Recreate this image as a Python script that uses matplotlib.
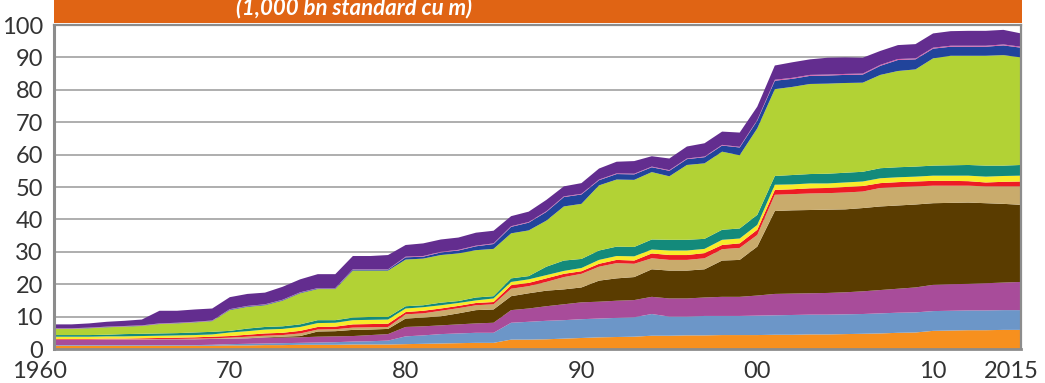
import matplotlib
matplotlib.use("Agg")
import matplotlib.pyplot as plt
from matplotlib.patches import Rectangle
from matplotlib.transforms import ScaledTranslation
import numpy as np

# Proved gas reserves by region, 1960-2015 (1,000 bn standard cu m)
years = list(range(1960, 2016))

orange = [1.0, 1.0, 1.0, 1.0, 1.0, 1.0, 1.0, 1.0, 1.0, 1.0,
          1.1, 1.1, 1.2, 1.2, 1.3, 1.3, 1.3, 1.4, 1.4, 1.4,
          1.5, 1.6, 1.7, 1.8, 1.9, 1.9, 2.9, 2.9, 3.0, 3.2,
          3.4, 3.6, 3.7, 3.8, 4.1, 4.1, 4.2, 4.2, 4.3, 4.3,
          4.3, 4.4, 4.4, 4.5, 4.5, 4.6, 4.7, 4.8, 5.0, 5.1,
          5.6, 5.7, 5.8, 5.8, 5.9, 5.9]
steel_blue = [0.2, 0.2, 0.2, 0.2, 0.2, 0.2, 0.2, 0.2, 0.2, 0.3,
              0.4, 0.5, 0.5, 0.6, 0.6, 0.7, 0.8, 0.9, 1.0, 1.2,
              2.4, 2.6, 2.9, 3.0, 3.1, 3.1, 5.2, 5.5, 5.7, 5.7,
              5.8, 5.8, 5.9, 6.0, 6.7, 5.9, 5.8, 6.0, 5.9, 5.9,
              6.0, 6.0, 6.1, 6.1, 6.1, 6.1, 6.1, 6.2, 6.2, 6.2,
              6.1, 6.1, 6.1, 6.1, 6.1, 6.1]
magenta = [1.6, 1.6, 1.6, 1.7, 1.7, 1.7, 1.8, 1.8, 1.8, 1.8,
           1.7, 1.7, 1.8, 1.7, 1.7, 1.8, 1.8, 1.7, 1.9, 2.0,
           2.9, 2.8, 2.7, 2.8, 2.9, 3.1, 3.9, 4.1, 4.5, 4.9,
           5.2, 5.2, 5.3, 5.3, 5.3, 5.6, 5.6, 5.7, 5.9, 5.9,
           6.2, 6.6, 6.6, 6.6, 6.7, 6.8, 7.0, 7.2, 7.4, 7.7,
           8.1, 8.2, 8.2, 8.4, 8.5, 8.7]
brown = [0.0, 0.0, 0.0, 0.0, 0.0, 0.0, 0.0, 0.0, 0.0, 0.0,
         0.0, 0.0, 0.1, 0.3, 0.4, 1.6, 1.6, 1.9, 1.7, 1.6,
         2.6, 2.7, 2.8, 3.4, 4.1, 4.1, 4.3, 4.7, 4.8, 4.6,
         4.6, 6.5, 6.9, 7.1, 8.5, 8.6, 8.6, 8.7, 11.2, 11.4,
         15.1, 25.6, 25.7, 25.7, 25.7, 25.6, 25.7, 25.8, 25.7, 25.6,
         25.2, 25.1, 25.1, 24.7, 24.3, 23.8]
tan = [0.1, 0.1, 0.1, 0.1, 0.1, 0.1, 0.1, 0.1, 0.2, 0.2,
       0.3, 0.5, 0.5, 0.5, 0.8, 0.6, 0.6, 0.7, 0.7, 0.6,
       1.3, 1.3, 1.7, 1.6, 1.5, 1.6, 2.3, 2.2, 2.7, 3.8,
       4.2, 4.3, 4.7, 4.1, 3.4, 3.3, 3.3, 3.4, 3.5, 3.7,
       3.6, 5.0, 5.0, 5.1, 5.1, 5.2, 5.1, 5.7, 5.7, 5.6,
       5.4, 5.3, 5.2, 5.2, 5.4, 5.7]
red = [0.2, 0.2, 0.2, 0.2, 0.2, 0.3, 0.3, 0.4, 0.4, 0.5,
       0.5, 0.6, 0.7, 0.7, 0.8, 0.8, 0.8, 1.0, 1.0, 1.0,
       0.7, 0.8, 0.7, 0.7, 0.7, 0.7, 1.1, 1.0, 1.1, 1.0,
       0.8, 0.9, 1.0, 1.0, 1.5, 1.5, 1.5, 1.6, 1.3, 1.4,
       1.6, 1.5, 1.5, 1.6, 1.6, 1.7, 1.7, 1.5, 1.5, 1.5,
       1.5, 1.5, 1.4, 1.2, 1.4, 1.5]
yellow = [0.7, 0.7, 0.7, 0.7, 0.7, 0.7, 0.7, 0.7, 0.7, 0.7,
          1.1, 1.1, 1.2, 1.2, 1.2, 1.2, 1.2, 1.3, 1.3, 1.3,
          1.1, 1.1, 1.0, 0.9, 0.8, 1.1, 1.0, 1.1, 1.0, 0.9,
          1.0, 1.2, 1.2, 1.3, 1.2, 1.4, 1.4, 1.3, 1.6, 1.5,
          1.5, 1.6, 1.5, 1.5, 1.4, 1.4, 1.4, 1.5, 1.5, 1.5,
          1.6, 1.6, 1.7, 1.8, 1.8, 1.8]
teal = [0.5, 0.5, 0.5, 0.5, 0.7, 0.7, 0.7, 0.7, 0.8, 0.8,
        0.5, 0.8, 0.8, 0.8, 0.8, 0.9, 0.8, 0.8, 0.9, 0.8,
        0.7, 0.6, 0.8, 0.6, 0.9, 0.7, 1.1, 1.0, 2.6, 3.2,
        2.8, 2.9, 2.9, 2.9, 3.1, 3.3, 3.3, 3.1, 3.1, 3.1,
        3.1, 2.7, 2.9, 2.9, 3.0, 3.0, 3.0, 3.1, 3.1, 3.1,
        3.1, 3.2, 3.3, 3.4, 3.2, 3.3]
lime = [1.9, 1.9, 2.1, 2.3, 2.3, 2.4, 2.9, 3.0, 3.1, 3.3,
        6.4, 6.7, 6.7, 7.9, 9.6, 9.6, 9.6, 14.5, 14.3, 14.3,
        14.4, 14.4, 14.7, 14.7, 14.6, 14.6, 13.9, 14.1, 14.2, 16.7,
        17.0, 20.1, 20.7, 20.7, 20.8, 19.6, 23.1, 23.3, 24.1, 22.6,
        26.7, 26.8, 27.2, 27.8, 27.8, 27.7, 27.5, 28.8, 29.7, 30.0,
        33.1, 33.8, 33.7, 33.9, 34.1, 33.2]
navy = [0.1, 0.1, 0.1, 0.1, 0.1, 0.1, 0.1, 0.1, 0.1, 0.1,
        0.2, 0.2, 0.2, 0.2, 0.2, 0.2, 0.2, 0.3, 0.3, 0.3,
        0.7, 0.6, 0.8, 0.9, 1.2, 1.5, 2.0, 2.4, 2.7, 2.9,
        2.9, 1.6, 1.7, 1.7, 1.5, 1.7, 1.8, 1.9, 1.9, 2.4,
        2.4, 2.6, 2.5, 2.5, 2.5, 2.5, 2.5, 2.8, 3.4, 3.1,
        3.0, 2.8, 2.8, 2.8, 3.0, 3.0]
pink = [0.1, 0.1, 0.1, 0.1, 0.1, 0.1, 0.1, 0.1, 0.1, 0.1,
        0.1, 0.1, 0.1, 0.1, 0.1, 0.1, 0.1, 0.1, 0.1, 0.1,
        0.2, 0.2, 0.2, 0.2, 0.2, 0.2, 0.2, 0.2, 0.2, 0.2,
        0.2, 0.2, 0.2, 0.2, 0.2, 0.2, 0.2, 0.2, 0.2, 0.2,
        0.2, 0.3, 0.3, 0.3, 0.3, 0.3, 0.3, 0.3, 0.3, 0.3,
        0.3, 0.3, 0.3, 0.3, 0.3, 0.3]
purple = [1.2, 1.2, 1.3, 1.5, 1.6, 1.8, 3.9, 3.7, 3.8, 3.7,
          3.7, 3.7, 3.6, 4.0, 4.0, 4.3, 4.3, 4.1, 4.1, 4.4,
          3.6, 3.9, 3.8, 3.8, 4.0, 3.9, 3.1, 3.2, 3.5, 3.1,
          3.3, 3.4, 3.6, 3.9, 3.2, 3.6, 3.7, 4.1, 4.1, 4.4,
          4.1, 4.4, 4.8, 4.8, 5.2, 5.1, 4.9, 4.3, 4.3, 4.4,
          4.4, 4.5, 4.6, 4.6, 4.5, 4.1]

layers = [orange, steel_blue, magenta, brown, tan, red, yellow, teal,
          lime, navy, pink, purple]
colors = ['#F7901E', '#6C96C8', '#A84C9A', '#5A3C00', '#C9AB6C', '#ED1C24',
          '#F8EC2A', '#138A7B', '#B2D235', '#21449B', '#D65AA8', '#632D8F']

tick_years = [1960, 1970, 1980, 1990, 2000, 2010, 2015]
tick_labels = ['1960', '70', '80', '90', '00', '10', '2015']
y_ticks = list(range(0, 101, 10))

W, H = 1045, 383
fig = plt.figure(figsize=(W / 100, H / 100), dpi=100)
ax = fig.add_axes([54 / W, 1 - 349 / H, (1021 - 54) / W, (349 - 25) / H])

ax.stackplot(years, *layers, colors=colors, linewidth=0, zorder=2)

ax.set_xlim(1960, 2015)
ax.set_ylim(0, 100)
ax.set_yticks(y_ticks)
ax.set_xticks(tick_years)
ax.set_xticklabels(tick_labels)
ax.grid(axis='y', color='#A8A8A8', linewidth=1.3, zorder=1)
ax.set_axisbelow(True)
ax.tick_params(length=0, labelsize=17, labelcolor='#333333', pad=8)
ax.tick_params(axis='x', pad=9)
for lab in ax.get_xticklabels() + ax.get_yticklabels():
    lab.set_family('Lato')

xl = ax.get_xticklabels()
xl[0].set_transform(xl[0].get_transform() + ScaledTranslation(-0.14, 0, fig.dpi_scale_trans))
xl[-1].set_transform(xl[-1].get_transform() + ScaledTranslation(-0.10, 0, fig.dpi_scale_trans))

for side in ['left', 'right', 'top', 'bottom']:
    ax.spines[side].set_color('#8C8C8C')
    ax.spines[side].set_linewidth(1.6)
    ax.spines[side].set_zorder(3)
ax.spines['left'].set_linewidth(2.2)
ax.spines['bottom'].set_linewidth(2.0)

# Header banner with the unit line
fig.patches.append(Rectangle((54 / W, 1 - 23 / H), (1022 - 54) / W, 23 / H,
                             transform=fig.transFigure, facecolor='#E06414',
                             edgecolor='none', zorder=0))
fig.text(354 / W, 1 - 14 / H, '(1,000 bn standard cu m)', color='white',
         fontsize=16, fontstyle='italic', fontweight='bold', family='Lato',
         ha='center', va='baseline')

fig.savefig('out.png', dpi=100)
